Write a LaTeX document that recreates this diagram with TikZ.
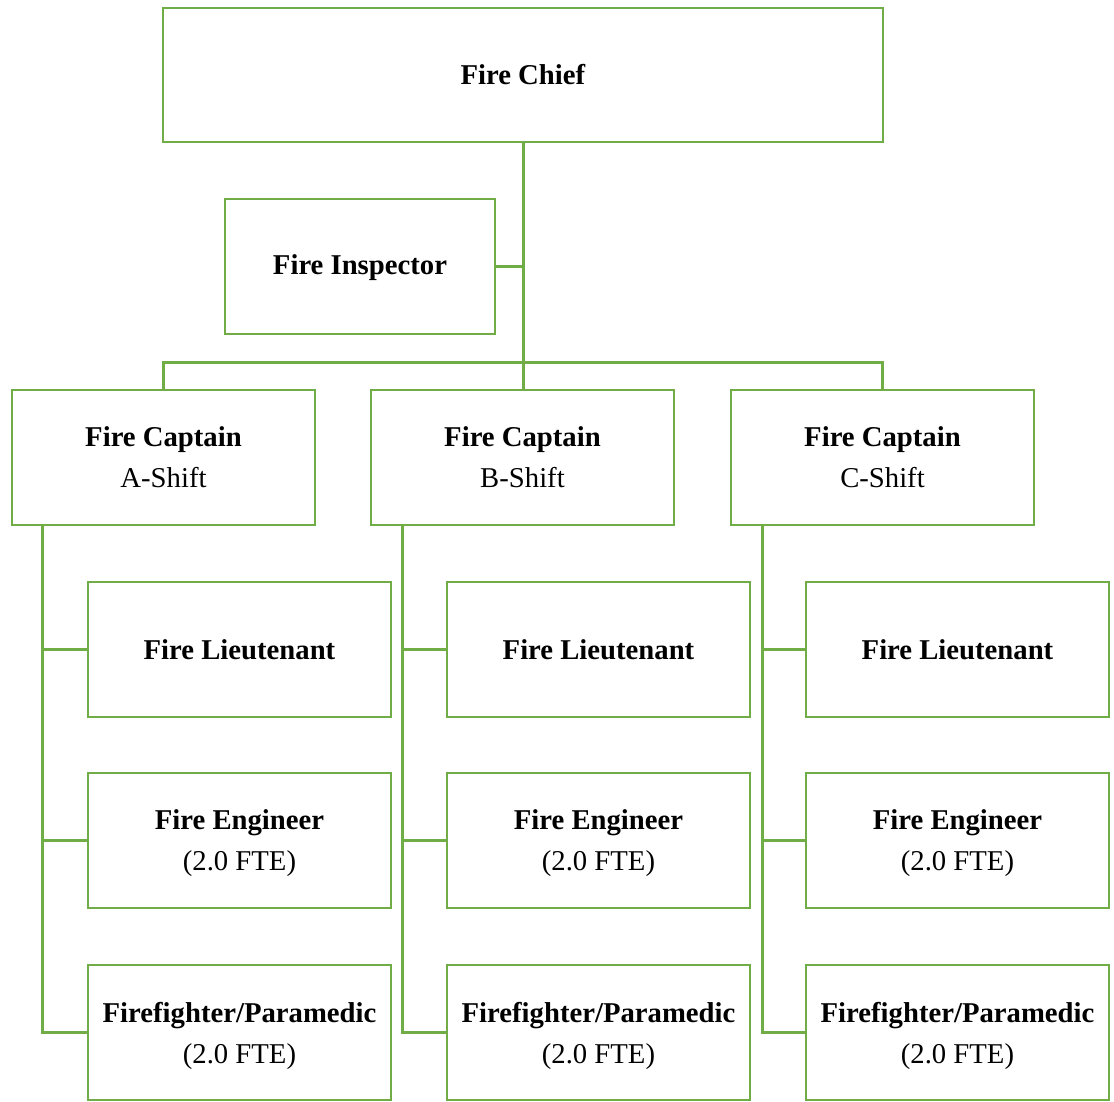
\documentclass[tikz,border=0pt]{standalone}
\usepackage{fontspec}
\setmainfont{Liberation Serif}
\definecolor{orggreen}{HTML}{70AD47}
\begin{document}
\begin{tikzpicture}[x=1pt,y=-1pt,
  box/.style={draw=orggreen,line width=2.8pt,fill=white,inner sep=0pt},
  label/.style={align=center,inner sep=0pt,font=\fontsize{28.7}{41}\selectfont},
  link/.style={draw=orggreen,line width=3pt}]
\useasboundingbox (0,0) rectangle (1114,1102);
% boxes are placed by their corners; #7 nudges the text down
\newcommand{\orgbox}[7]{%
  \node[box,minimum width={#4-#2},minimum height={#5-#3}] (#1) at ({(#2+#4)/2},{(#3+#5)/2}) {};
  \node[label] at ([yshift=-#7pt]#1.center) {#6};}
\orgbox{chief}{163}{8}{883}{142}{\textbf{Fire Chief}}{0}
\orgbox{insp}{225}{199}{495}{334}{\textbf{Fire Inspector}}{1}
\orgbox{capA}{12}{390}{315}{525}{\textbf{Fire Captain}\\A-Shift}{0}
\orgbox{capB}{371}{390}{674}{525}{\textbf{Fire Captain}\\B-Shift}{0}
\orgbox{capC}{731}{390}{1034}{525}{\textbf{Fire Captain}\\C-Shift}{0}
\foreach \s/\l in {A/88,B/447,C/806}{
  \pgfmathsetmacro{\r}{\l+303}
  \orgbox{lt\s}{\l}{582}{\r}{717}{\textbf{Fire Lieutenant}}{0}
  \orgbox{eng\s}{\l}{773}{\r}{908}{\textbf{Fire Engineer}\\(2.0 FTE)}{3}
  \orgbox{ff\s}{\l}{965}{\r}{1100}{\textbf{Firefighter/Paramedic}\\(2.0 FTE)}{3}
}
% trunk and bus
\coordinate (bus) at (chief.south |- 0,362);
\draw[link] (chief.south) -- (bus);
\draw[link] (insp.east) -- (insp.east -| chief.south);
\draw[link] (capA.north) |- (bus) -| (capC.north);
\draw[link] (bus) -- (bus |- capB.north);
% shift branches
\foreach \s/\x in {A/42,B/402,C/762}{
  \draw[link] (cap\s.south -| \x,0) |- (ff\s.west);
  \draw[link] (lt\s.west -| \x,0) -- (lt\s.west);
  \draw[link] (eng\s.west -| \x,0) -- (eng\s.west);
}
\end{tikzpicture}
\end{document}
